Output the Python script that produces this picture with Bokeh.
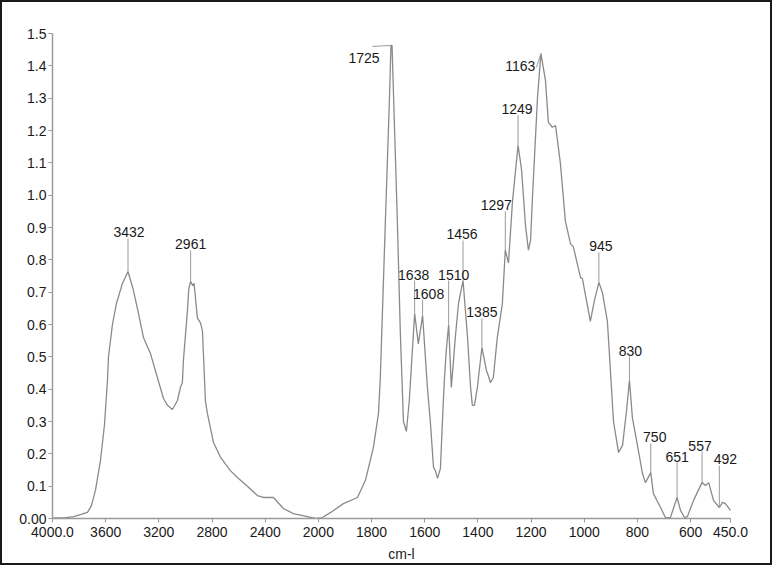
import numpy as np
from bokeh.plotting import figure
from bokeh.models import FixedTicker, ColumnDataSource, Range1d, Label
from bokeh.embed import file_html
from bokeh.resources import INLINE

# ---------------- data ----------------
wavenumber = [4000, 3900, 3840, 3790, 3737, 3707, 3677, 3639, 3609, 3586,
              3579, 3549, 3519, 3474, 3432, 3391, 3353, 3316, 3263, 3211,
              3165, 3135, 3098, 3060, 3038, 3023, 3015, 2985, 2975, 2961,
              2945, 2935, 2910, 2887, 2872, 2850, 2835, 2789, 2737, 2662,
              2609, 2534, 2459, 2413, 2338, 2263, 2188, 2083, 2022, 1985,
              1955, 1906, 1853, 1823, 1793, 1774, 1767, 1748, 1733, 1727,
              1723, 1703, 1692, 1680, 1669, 1658, 1638, 1624, 1608, 1590,
              1579, 1567, 1560, 1552, 1541, 1530, 1526, 1519, 1510, 1500,
              1485, 1473, 1456, 1439, 1428, 1421, 1413, 1402, 1385, 1368,
              1360, 1353, 1342, 1327, 1308, 1297, 1285, 1270, 1249, 1236,
              1221, 1210, 1202, 1195, 1176, 1163, 1146, 1135, 1120, 1108,
              1090, 1071, 1052, 1041, 1014, 1007, 977, 962, 945, 932,
              913, 890, 871, 856, 841, 830, 819, 800, 781, 770,
              750, 740, 713, 695, 676, 651, 638, 623, 612, 589,
              557, 544, 532, 514, 492, 480, 469, 450]
absorbance = [0.001, 0.003, 0.006, 0.012, 0.019, 0.040, 0.087, 0.180, 0.290, 0.430,
              0.500, 0.600, 0.665, 0.727, 0.764, 0.705, 0.634, 0.560, 0.510, 0.436,
              0.371, 0.350, 0.337, 0.365, 0.405, 0.420, 0.490, 0.643, 0.710, 0.733,
              0.720, 0.727, 0.620, 0.605, 0.580, 0.365, 0.325, 0.235, 0.190, 0.148,
              0.127, 0.100, 0.071, 0.065, 0.065, 0.031, 0.015, 0.006, 0.000, 0.003,
              0.018, 0.046, 0.065, 0.118, 0.220, 0.325, 0.436, 0.920, 1.290, 1.463,
              1.463, 0.920, 0.580, 0.300, 0.270, 0.365, 0.634, 0.540, 0.628, 0.405,
              0.300, 0.158, 0.148, 0.124, 0.155, 0.365, 0.430, 0.520, 0.600, 0.405,
              0.560, 0.665, 0.736, 0.560, 0.410, 0.350, 0.350, 0.405, 0.529, 0.458,
              0.440, 0.420, 0.436, 0.560, 0.665, 0.830, 0.790, 0.980, 1.154, 1.080,
              0.906, 0.830, 0.860, 0.990, 1.300, 1.438, 1.355, 1.225, 1.210, 1.215,
              1.100, 0.920, 0.850, 0.840, 0.745, 0.742, 0.610, 0.674, 0.730, 0.700,
              0.610, 0.300, 0.204, 0.226, 0.334, 0.427, 0.312, 0.226, 0.139, 0.111,
              0.142, 0.077, 0.034, 0.003, 0.003, 0.065, 0.025, 0.003, 0.006, 0.056,
              0.111, 0.102, 0.111, 0.056, 0.034, 0.050, 0.046, 0.025]

peak_labels = ["3432", "2961", "1725", "1638", "1608", "1510", "1456", "1385",
               "1297", "1249", "1163", "945", "830", "750", "651", "557", "492"]
peak_wn = [3432, 2961, 1725, 1638, 1608, 1510, 1456, 1385,
           1297, 1249, 1163, 945, 830, 750, 651, 557, 492]
peak_abs = [0.764, 0.733, 1.463, 0.634, 0.628, 0.600, 0.736, 0.529,
            0.830, 1.154, 1.438, 0.730, 0.427, 0.142, 0.065, 0.111, 0.034]

x_ticks = [4000, 3600, 3200, 2800, 2400, 2000, 1800, 1600, 1400, 1200, 1000, 800, 600, 450]
x_tick_labels = ["4000.0", "3600", "3200", "2800", "2400", "2000", "1800", "1600",
                 "1400", "1200", "1000", "800", "600", "450.0"]
y_ticks = [0.0, 0.1, 0.2, 0.3, 0.4, 0.5, 0.6, 0.7, 0.8, 0.9, 1.0, 1.1, 1.2, 1.3, 1.4, 1.5]
y_tick_labels = ["0.00", "0.1", "0.2", "0.3", "0.4", "0.5", "0.6", "0.7", "0.8",
                 "0.9", "1.0", "1.1", "1.2", "1.3", "1.4", "1.5"]

# ---------------- annotation layout ----------------
# leader tops (absorbance units) for each peak label
leader_x = list(peak_wn)
leader_y = [0.866, 0.829, 1.460, 0.736, 0.677, 0.736, 0.860, 0.619,
            0.950, 1.247, 1.395, 0.823, 0.501, 0.232, 0.173, 0.207, 0.164]
leader_x[2] = 1797   # 1725: leader runs to the left
leader_x[10] = 1180  # 1163: short slanted leader
text_dx = [1, 0, 0, -1, 6, 5, -1, 0, -9, -1, 0, 2, 1, 4, 0, -2, 6]
side_pos = {2: (1770, 1.423), 10: (1184, 1.398)}   # labels placed beside their peak


def axis_pos(w):
    """Wavenumber -> axis position; the scale doubles below 2000 cm-1."""
    w = np.asarray(w, dtype=float)
    return np.where(w >= 2000, (4000.0 - w) / 2.0, 1000.0 + (2000.0 - w))


FONT = "Liberation Sans"
INK = "#1a1a1a"
GREY = "#9a9a9a"

x_end = float(axis_pos(450))
# frame runs a little past 450 so the last label is not clipped; the axis stops at 450
x_pad = x_end * 20.0 / 678.0

p = figure(width=772, height=565, output_backend="svg", toolbar_location=None,
           x_range=Range1d(0, x_end + x_pad), y_range=Range1d(0, 1.5),
           min_border_left=52, min_border_right=22, min_border_top=33,
           min_border_bottom=47)
p.outline_line_color = None
p.grid.visible = False
p.background_fill_color = "white"
p.border_fill_color = None
p.styles = {"outline": "2px solid #1a1a1a", "outline-offset": "-2px",
            "background-color": "white"}

# spectrum
src = ColumnDataSource(dict(x=axis_pos(wavenumber), y=absorbance))
p.line("x", "y", source=src, line_color="#8a8a8a", line_width=1.3)

# leaders
lead = ColumnDataSource(dict(x0=axis_pos(peak_wn), y0=peak_abs,
                             x1=axis_pos(leader_x), y1=leader_y))
p.segment("x0", "y0", "x1", "y1", source=lead, line_color=GREY, line_width=1)

# peak labels
for i, t in enumerate(peak_labels):
    if i in side_pos:
        wx, ay = side_pos[i]
        lbl = Label(x=float(axis_pos(wx)), y=ay, text=t, text_align="right",
                    text_baseline="middle")
    else:
        lbl = Label(x=float(axis_pos(leader_x[i])), y=leader_y[i], text=t,
                    x_offset=text_dx[i], y_offset=1, text_align="center",
                    text_baseline="bottom")
    lbl.text_font = FONT
    lbl.text_font_size = "14px"
    lbl.text_color = INK
    p.add_layout(lbl)

# axes
p.xaxis.ticker = FixedTicker(ticks=list(axis_pos(x_ticks)))
p.xaxis.major_label_overrides = {float(u): s for u, s in zip(axis_pos(x_ticks), x_tick_labels)}
p.xaxis.bounds = (0, x_end)
p.yaxis.ticker = FixedTicker(ticks=y_ticks)
p.yaxis.major_label_overrides = {float(v): s for v, s in zip(y_ticks, y_tick_labels)}
p.xaxis.axis_label = "cm-l"
for ax in (p.xaxis, p.yaxis):
    ax.axis_line_color = GREY
    ax.axis_line_width = 1.5
    ax.major_tick_line_color = GREY
    ax.major_tick_out = 4
    ax.major_tick_in = 0
    ax.minor_tick_line_color = None
    ax.major_label_text_font = FONT
    ax.major_label_text_font_size = "14px"
    ax.major_label_text_color = INK
p.xaxis.major_label_standoff = 4
p.yaxis.major_label_standoff = 2
p.xaxis.axis_label_text_font = FONT
p.xaxis.axis_label_text_font_size = "14px"
p.xaxis.axis_label_text_font_style = "normal"
p.xaxis.axis_label_text_color = INK
p.xaxis.axis_label_standoff = 6

open("out.html", "w").write(file_html(p, INLINE))
